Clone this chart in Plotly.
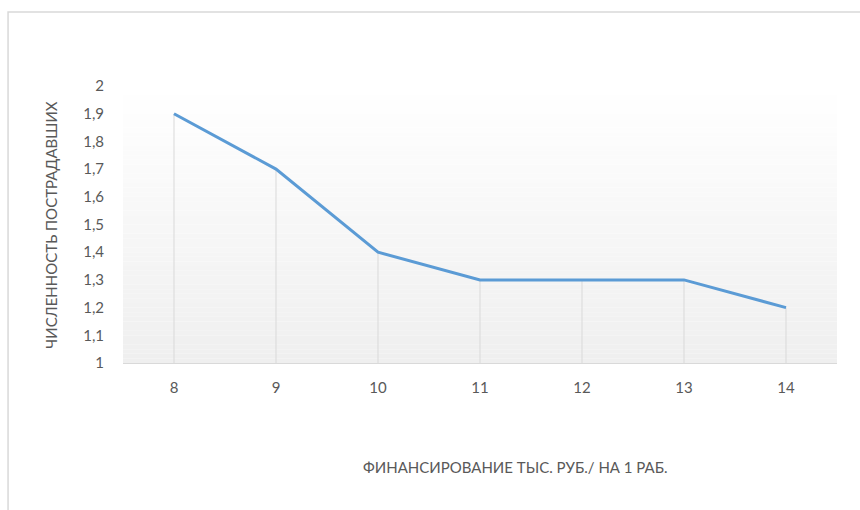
import plotly.graph_objects as go

# Funding per worker (thousand rubles) and number of injured
funding = [8, 9, 10, 11, 12, 13, 14]
injured = [1.9, 1.7, 1.4, 1.3, 1.3, 1.3, 1.2]

x_title = "ФИНАНСИРОВАНИЕ ТЫС. РУБ./ НА 1 РАБ."
y_title = "ЧИСЛЕННОСТЬ ПОСТРАДАВШИХ"

FONT = "Lato"
TEXT = "#595959"
GRID = "#d9d9d9"
LINE = "#5b9bd5"

fig = go.Figure()

# vertical drop lines from each point to the category axis
drop_x, drop_y = [], []
for xv, yv in zip(funding, injured):
    drop_x += [xv, xv, None]
    drop_y += [1.0, yv, None]
fig.add_trace(go.Scatter(x=drop_x, y=drop_y, mode="lines",
                         line=dict(color=GRID, width=1),
                         hoverinfo="skip", showlegend=False))

fig.add_trace(go.Scatter(x=funding, y=injured, mode="lines",
                         line=dict(color=LINE, width=3),
                         showlegend=False))

# plot-area background: light vertical gradient (white -> light grey)
shapes = []
n = 60
for i in range(n):
    t = i / (n - 1)
    c = int(round(255 - 16 * (1 - t)))
    shapes.append(dict(type="rect", xref="paper", yref="paper",
                       x0=0, x1=1, y0=i / n, y1=(i + 1) / n,
                       fillcolor=f"rgb({c},{c},{c})", line=dict(width=0),
                       layer="below"))

# chart-area border
shapes.append(dict(type="rect", xref="paper", yref="paper",
                   x0=-0.161, x1=1.2, y0=-1.0, y1=1.267,
                   line=dict(color=GRID, width=1.5), fillcolor="rgba(0,0,0,0)"))

fig.update_layout(
    width=860, height=510,
    margin=dict(l=123, r=23, t=86, b=147),
    paper_bgcolor="white",
    plot_bgcolor="rgba(0,0,0,0)",
    separators=", ",
    font=dict(family=FONT, size=15, color=TEXT),
    shapes=shapes,
    xaxis=dict(range=[7.5, 14.5], tickvals=funding, showgrid=False,
               zeroline=False, showline=True, linecolor=GRID, linewidth=1,
               ticks="outside", ticklen=11, tickcolor="rgba(0,0,0,0)",
               tickfont=dict(family=FONT, size=15, color=TEXT)),
    yaxis=dict(range=[1, 2], dtick=0.1, tickformat=".1~f", showgrid=False,
               zeroline=False, showline=False,
               ticks="outside", ticklen=15, tickcolor="rgba(0,0,0,0)",
               tickfont=dict(family=FONT, size=15, color=TEXT)),
    annotations=[
        dict(text=y_title, xref="paper", yref="paper", x=-0.102, y=0.5,
             xanchor="center", yanchor="middle",
             textangle=-90, showarrow=False,
             font=dict(family=FONT, size=15, color=TEXT)),
        dict(text=x_title, xref="paper", yref="paper", x=0.55, y=-0.375,
             xanchor="center", yanchor="middle",
             showarrow=False, font=dict(family=FONT, size=15, color=TEXT)),
    ],
)

fig.write_html("out.html")
